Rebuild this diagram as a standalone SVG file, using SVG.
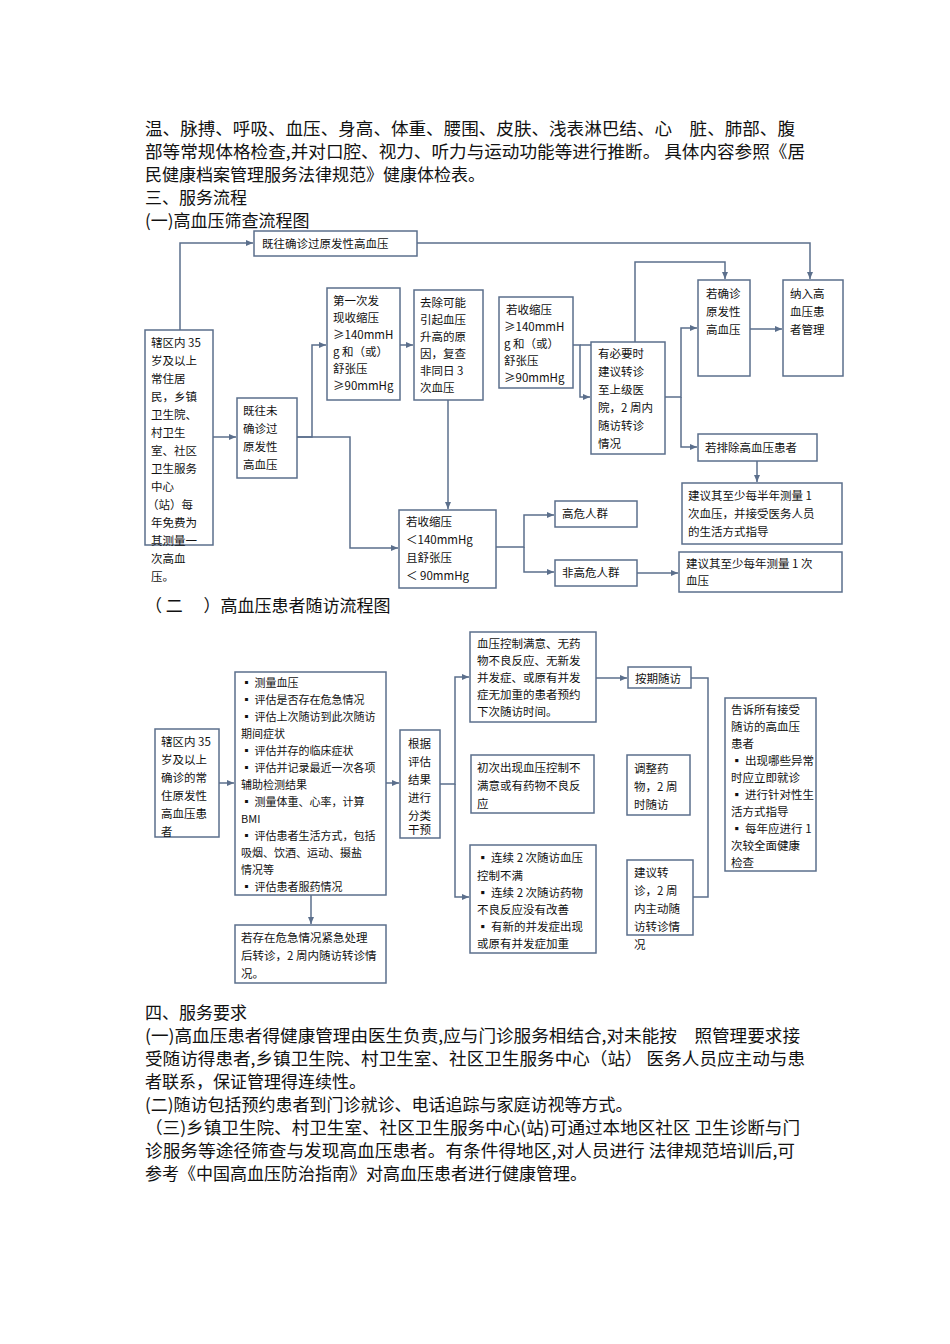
<svg xmlns="http://www.w3.org/2000/svg" width="950" height="1344" viewBox="0 0 950 1344">
<defs>
<marker id="a" markerWidth="8" markerHeight="8" refX="7" refY="4" orient="auto" markerUnits="userSpaceOnUse"><path d="M0,1 L7,4 L0,7 z" fill="#5b6f8c"/></marker>
<style>
.b{fill:#fff;stroke:#5b6f8c;stroke-width:1.5}
.c{fill:none;stroke:#5b6f8c;stroke-width:1.5}
.t{font-family:"Noto Sans CJK SC","Noto Sans",sans-serif;font-size:11.5px;fill:#111}
.s{font-size:11px}
.p{font-family:"Noto Sans CJK SC","Noto Sans",sans-serif;font-size:17px;fill:#111}
</style>
</defs>
<rect width="950" height="1344" fill="#fff"/>
<g class="p">
<text x="145" y="135" textLength="650" lengthAdjust="spacingAndGlyphs">温、脉搏、呼吸、血压、身高、体重、腰围、皮肤、浅表淋巴结、心　脏、肺部、腹</text>
<text x="145" y="158" textLength="660" lengthAdjust="spacingAndGlyphs">部等常规体格检查,并对口腔、视力、听力与运动功能等进行推断。 具体内容参照《居</text>
<text x="145" y="181">民健康档案管理服务法律规范》健康体检表。</text>
<text x="145" y="204">三、服务流程</text>
<text x="145" y="227">(一)高血压筛查流程图</text>
<text x="145" y="612">（ 二　 ）高血压患者随访流程图</text>
<text x="145" y="1019">四、服务要求</text>
<text x="145" y="1042" textLength="655" lengthAdjust="spacingAndGlyphs">(一)高血压患者得健康管理由医生负责,应与门诊服务相结合,对未能按　照管理要求接</text>
<text x="145" y="1065" textLength="660" lengthAdjust="spacingAndGlyphs">受随访得患者,乡镇卫生院、村卫生室、社区卫生服务中心（站） 医务人员应主动与患</text>
<text x="145" y="1088">者联系，保证管理得连续性。</text>
<text x="145" y="1111">(二)随访包括预约患者到门诊就诊、电话追踪与家庭访视等方式。</text>
<text x="145" y="1134" textLength="655" lengthAdjust="spacingAndGlyphs">（三)乡镇卫生院、村卫生室、社区卫生服务中心(站)可通过本地区社区 卫生诊断与门</text>
<text x="145" y="1157" textLength="650" lengthAdjust="spacingAndGlyphs">诊服务等途径筛查与发现高血压患者。有条件得地区,对人员进行 法律规范培训后,可</text>
<text x="145" y="1180">参考《中国高血压防治指南》对高血压患者进行健康管理。</text>
</g>
<g id="connectors" class="c">
<path d="M180,330 V243 H253" marker-end="url(#a)"/>
<path d="M417,243 H810 V279" marker-end="url(#a)"/>
<path d="M213,437 H236" marker-end="url(#a)"/>
<path d="M297,437 H312 V345 H326" marker-end="url(#a)"/>
<path d="M297,437 H350 V548 H398" marker-end="url(#a)"/>
<path d="M400,345 H413" marker-end="url(#a)"/>
<path d="M448,400 V509" marker-end="url(#a)"/>
<path d="M573,345 H580 V397 H590" marker-end="url(#a)"/>
<path d="M580,345 H635 V262 H725 V279" marker-end="url(#a)"/>
<path d="M665,397 H681 V328 H697" marker-end="url(#a)"/>
<path d="M681,397 V447 H697" marker-end="url(#a)"/>
<path d="M750,329 H782" marker-end="url(#a)"/>
<path d="M757,461 V482" marker-end="url(#a)"/>
<path d="M496,547 H524 V515 H554" marker-end="url(#a)"/>
<path d="M524,547 V572 H554" marker-end="url(#a)"/>
<path d="M637,573 H678" marker-end="url(#a)"/>
<path d="M219,783 H234" marker-end="url(#a)"/>
<path d="M386,783 H399" marker-end="url(#a)"/>
<path d="M440,784 H455 V677 H469" marker-end="url(#a)"/>
<path d="M455,784 V897 H469" marker-end="url(#a)"/>
<path d="M311,895 V924" marker-end="url(#a)"/>
<path d="M596,678 H627" marker-end="url(#a)"/>
<path d="M691,678 H708 V897 H693"/>
</g>
<g id="n1"><rect class="b" x="254" y="231" width="163" height="25"/><text class="t" x="262" y="248">既往确诊过原发性高血压</text></g>
<g id="n2"><rect class="b" x="145" y="330" width="68" height="215"/><text class="t"><tspan x="151" y="347">辖区内 35</tspan><tspan x="151" y="365">岁及以上</tspan><tspan x="151" y="383">常住居</tspan><tspan x="151" y="401">民，乡镇</tspan><tspan x="151" y="419">卫生院、</tspan><tspan x="151" y="437">村卫生</tspan><tspan x="151" y="455">室、社区</tspan><tspan x="151" y="473">卫生服务</tspan><tspan x="151" y="491">中心</tspan><tspan x="147" y="509">（站）每</tspan><tspan x="151" y="527">年免费为</tspan><tspan x="151" y="545">其测量一</tspan><tspan x="151" y="563">次高血</tspan><tspan x="151" y="581">压。</tspan></text></g>
<g id="n3"><rect class="b" x="237" y="398" width="60" height="80"/><text class="t"><tspan x="243" y="415">既往未</tspan><tspan x="243" y="433">确诊过</tspan><tspan x="243" y="451">原发性</tspan><tspan x="243" y="469">高血压</tspan></text></g>
<g id="n4"><rect class="b" x="327" y="288" width="73" height="112"/><text class="t"><tspan x="333" y="305">第一次发</tspan><tspan x="333" y="322">现收缩压</tspan><tspan x="333" y="339">≥140mmH</tspan><tspan x="333" y="356">g 和（或）</tspan><tspan x="333" y="373">舒张压</tspan><tspan x="333" y="390">≥90mmHg</tspan></text></g>
<g id="n5"><rect class="b" x="414" y="290" width="69" height="110"/><text class="t"><tspan x="420" y="307">去除可能</tspan><tspan x="420" y="324">引起血压</tspan><tspan x="420" y="341">升高的原</tspan><tspan x="420" y="358">因，复查</tspan><tspan x="420" y="375">非同日 3</tspan><tspan x="420" y="392">次血压</tspan></text></g>
<g id="n6"><rect class="b" x="499" y="297" width="74" height="91"/><text class="t"><tspan x="506" y="314">若收缩压</tspan><tspan x="504" y="331">≥140mmH</tspan><tspan x="504" y="348">g 和（或）</tspan><tspan x="504" y="365">舒张压</tspan><tspan x="504" y="382">≥90mmHg</tspan></text></g>
<g id="n7"><rect class="b" x="591" y="342" width="74" height="112"/><text class="t"><tspan x="598" y="358">有必要时</tspan><tspan x="598" y="376">建议转诊</tspan><tspan x="598" y="394">至上级医</tspan><tspan x="598" y="412">院，2 周内</tspan><tspan x="598" y="430">随访转诊</tspan><tspan x="598" y="448">情况</tspan></text></g>
<g id="n8"><rect class="b" x="698" y="280" width="52" height="96"/><text class="t"><tspan x="706" y="298">若确诊</tspan><tspan x="706" y="316">原发性</tspan><tspan x="706" y="334">高血压</tspan></text></g>
<g id="n9"><rect class="b" x="783" y="280" width="60" height="96"/><text class="t"><tspan x="790" y="298">纳入高</tspan><tspan x="790" y="316">血压患</tspan><tspan x="790" y="334">者管理</tspan></text></g>
<g id="n10"><rect class="b" x="698" y="434" width="119" height="27"/><text class="t" x="705" y="452">若排除高血压患者</text></g>
<g id="n11"><rect class="b" x="682" y="483" width="160" height="61"/><text class="t"><tspan x="688" y="500">建议其至少每半年测量 1</tspan><tspan x="688" y="518">次血压，并接受医务人员</tspan><tspan x="688" y="536">的生活方式指导</tspan></text></g>
<g id="n12"><rect class="b" x="399" y="510" width="97" height="78"/><text class="t"><tspan x="406" y="526">若收缩压</tspan><tspan x="406" y="544">＜140mmHg</tspan><tspan x="406" y="562">且舒张压</tspan><tspan x="406" y="580">＜ 90mmHg</tspan></text></g>
<g id="n13"><rect class="b" x="555" y="501" width="82" height="26"/><text class="t" x="562" y="518">高危人群</text></g>
<g id="n14"><rect class="b" x="555" y="560" width="82" height="26"/><text class="t" x="562" y="577">非高危人群</text></g>
<g id="n15"><rect class="b" x="679" y="552" width="163" height="40"/><text class="t"><tspan x="686" y="568">建议其至少每年测量 1 次</tspan><tspan x="686" y="585">血压</tspan></text></g>
<g id="m1"><rect class="b" x="155" y="729" width="64" height="108"/><text class="t"><tspan x="161" y="746">辖区内 35</tspan><tspan x="161" y="764">岁及以上</tspan><tspan x="161" y="782">确诊的常</tspan><tspan x="161" y="800">住原发性</tspan><tspan x="161" y="818">高血压患</tspan><tspan x="161" y="836">者</tspan></text></g>
<g id="m2"><rect class="b" x="235" y="672" width="151" height="223"/><text class="t s"><tspan x="241" y="687">▪ 测量血压</tspan><tspan x="241" y="704">▪ 评估是否存在危急情况</tspan><tspan x="241" y="721">▪ 评估上次随访到此次随访</tspan><tspan x="241" y="738">期间症状</tspan><tspan x="241" y="755">▪ 评估并存的临床症状</tspan><tspan x="241" y="772">▪ 评估并记录最近一次各项</tspan><tspan x="241" y="789">辅助检测结果</tspan><tspan x="241" y="806">▪ 测量体重、心率，计算</tspan><tspan x="241" y="823">BMI</tspan><tspan x="241" y="840">▪ 评估患者生活方式，包括</tspan><tspan x="241" y="857">吸烟、饮酒、运动、摄盐</tspan><tspan x="241" y="874">情况等</tspan><tspan x="241" y="891">▪ 评估患者服药情况</tspan></text></g>
<g id="m3"><rect class="b" x="235" y="925" width="151" height="58"/><text class="t"><tspan x="241" y="942">若存在危急情况紧急处理</tspan><tspan x="241" y="960">后转诊，2 周内随访转诊情</tspan><tspan x="241" y="978">况。</tspan></text></g>
<g id="m4"><rect class="b" x="400" y="730" width="40" height="108"/><text class="t"><tspan x="408" y="748">根据</tspan><tspan x="408" y="766">评估</tspan><tspan x="408" y="784">结果</tspan><tspan x="408" y="802">进行</tspan><tspan x="408" y="820">分类</tspan><tspan x="408" y="834">干预</tspan></text></g>
<g id="m5"><rect class="b" x="470" y="632" width="126" height="90"/><text class="t"><tspan x="477" y="648">血压控制满意、无药</tspan><tspan x="477" y="665">物不良反应、无新发</tspan><tspan x="477" y="682">并发症、或原有并发</tspan><tspan x="477" y="699">症无加重的患者预约</tspan><tspan x="477" y="716">下次随访时间。</tspan></text></g>
<g id="m6"><rect class="b" x="471" y="755" width="123" height="58"/><text class="t"><tspan x="477" y="772">初次出现血压控制不</tspan><tspan x="477" y="790">满意或有药物不良反</tspan><tspan x="477" y="808">应</tspan></text></g>
<g id="m7"><rect class="b" x="470" y="845" width="126" height="108"/><text class="t"><tspan x="477" y="862">▪ 连续 2 次随访血压</tspan><tspan x="477" y="880">控制不满</tspan><tspan x="477" y="897">▪ 连续 2 次随访药物</tspan><tspan x="477" y="914">不良反应没有改善</tspan><tspan x="477" y="931">▪ 有新的并发症出现</tspan><tspan x="477" y="948">或原有并发症加重</tspan></text></g>
<g id="m8"><rect class="b" x="628" y="667" width="63" height="21"/><text class="t" x="635" y="683">按期随访</text></g>
<g id="m9"><rect class="b" x="627" y="755" width="63" height="60"/><text class="t"><tspan x="634" y="773">调整药</tspan><tspan x="634" y="791">物，2 周</tspan><tspan x="634" y="809">时随访</tspan></text></g>
<g id="m10"><rect class="b" x="627" y="860" width="66" height="75"/><text class="t"><tspan x="634" y="877">建议转</tspan><tspan x="634" y="895">诊，2 周</tspan><tspan x="634" y="913">内主动随</tspan><tspan x="634" y="931">访转诊情</tspan><tspan x="634" y="949">况</tspan></text></g>
<g id="m11"><rect class="b" x="725" y="698" width="91" height="173"/><text class="t"><tspan x="731" y="714">告诉所有接受</tspan><tspan x="731" y="731">随访的高血压</tspan><tspan x="731" y="748">患者</tspan><tspan x="731" y="765">▪ 出现哪些异常</tspan><tspan x="731" y="782">时应立即就诊</tspan><tspan x="731" y="799">▪ 进行针对性生</tspan><tspan x="731" y="816">活方式指导</tspan><tspan x="731" y="833">▪ 每年应进行 1</tspan><tspan x="731" y="850">次较全面健康</tspan><tspan x="731" y="867">检查</tspan></text></g>
</svg>
